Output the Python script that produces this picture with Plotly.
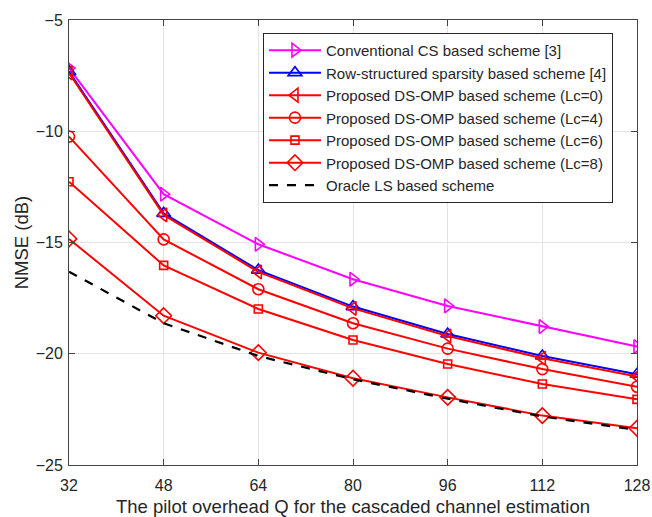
import plotly.graph_objects as go

Q = [32, 48, 64, 80, 96, 112, 128]
cs_conv = [-7.16, -12.83, -15.08, -16.65, -17.85, -18.78, -19.68]
row_struct = [-7.32, -13.69, -16.24, -17.88, -19.11, -20.10, -20.92]
ds_lc0 = [-7.38, -13.76, -16.32, -17.96, -19.20, -20.20, -21.02]
ds_lc4 = [-10.24, -14.86, -17.10, -18.63, -19.77, -20.69, -21.48]
ds_lc6 = [-12.27, -16.03, -17.99, -19.38, -20.46, -21.36, -22.05]
ds_lc8 = [-14.84, -18.29, -19.95, -21.10, -21.96, -22.78, -23.35]
oracle = [-16.31, -18.63, -20.10, -21.15, -22.02, -22.82, -23.42]

series = [
    ("Conventional CS based scheme [3]", cs_conv, "#ff00ff", "triangle-right-open", 12, "solid"),
    ("Row-structured sparsity based scheme [4]", row_struct, "#0000ff", "triangle-up-open", 12, "solid"),
    ("Proposed DS-OMP based scheme (Lc=0)", ds_lc0, "#ff0000", "triangle-left-open", 12, "solid"),
    ("Proposed DS-OMP based scheme (Lc=4)", ds_lc4, "#ff0000", "circle-open", 11, "solid"),
    ("Proposed DS-OMP based scheme (Lc=6)", ds_lc6, "#ff0000", "square-open", 8, "solid"),
    ("Proposed DS-OMP based scheme (Lc=8)", ds_lc8, "#ff0000", "diamond-open", 12, "solid"),
    ("Oracle LS based scheme", oracle, "#000000", None, 0, "dash"),
]

fig = go.Figure()
for name, vals, color, sym, size, dash in series:
    if sym:
        fig.add_trace(go.Scatter(x=Q, y=vals, name=name, mode="lines+markers",
                                 line=dict(color=color, width=2, dash=dash),
                                 marker=dict(symbol=sym, size=size, color=color,
                                             line=dict(color=color, width=1.6))))
    else:
        fig.add_trace(go.Scatter(x=Q, y=vals, name=name, mode="lines",
                                 line=dict(color=color, width=2.2, dash=dash)))

axis_common = dict(showline=True, linecolor="#444444", linewidth=1, mirror="ticks",
                   ticks="inside", ticklen=6, tickcolor="#444444", automargin=False,
                   showgrid=True, gridcolor="#e3e3e3", gridwidth=1, zeroline=False,
                   tickfont=dict(family="Liberation Sans, Arial", size=16, color="#262626"))

fig.update_layout(
    width=652, height=517,
    margin=dict(l=69, r=15, t=20, b=52),
    paper_bgcolor="white", plot_bgcolor="white",
    font=dict(family="Liberation Sans, Arial", size=16, color="#262626"),
    xaxis=dict(range=[32, 128], tickvals=Q, ticktext=[str(q) for q in Q],
               ticklabelstandoff=6,
               title=dict(text="The pilot overhead Q for the cascaded channel estimation",
                          font=dict(size=18.5), standoff=7), **axis_common),
    yaxis=dict(range=[-25, -5], tickvals=[-25, -20, -15, -10, -5],
               ticklabelstandoff=2,
               title=dict(text="NMSE (dB)", font=dict(size=18.5), standoff=2), **axis_common),
    legend=dict(x=0.3415, y=0.971, xanchor="left", yanchor="top",
                bordercolor="#262626", borderwidth=1, bgcolor="white",
                font=dict(family="Liberation Sans, Arial", size=15, color="#262626"),
                tracegroupgap=0, itemwidth=52),
    showlegend=True,
)

fig.write_html("out.html")
